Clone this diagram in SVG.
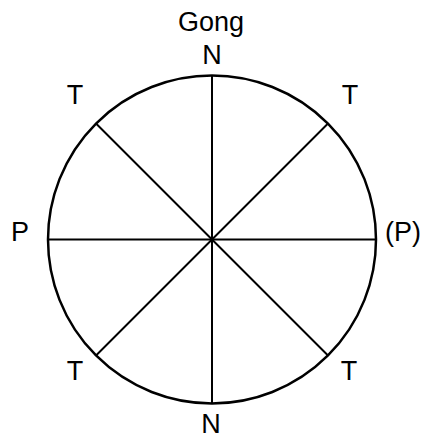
<svg xmlns="http://www.w3.org/2000/svg" width="424" height="438" viewBox="0 0 424 438">
<style>
.t{font-family:"Liberation Sans",Arial,sans-serif;font-size:27px;fill:#000;text-anchor:middle}
.l{stroke:#000;stroke-width:2;fill:none}
</style>
<rect width="424" height="438" fill="#fff"/>
<g id="connectors">
<line class="l" x1="212" y1="75" x2="212" y2="404"/>
<line class="l" x1="48" y1="239.5" x2="376" y2="239.5"/>
<line class="l" x1="96" y1="123.5" x2="328" y2="355.5"/>
<line class="l" x1="328" y1="123.5" x2="96" y2="355.5"/>
</g>
<g id="circle"><circle cx="212" cy="239.5" r="164" fill="none" stroke="#000" stroke-width="2.5"/></g>
<g id="gong"><text class="t" x="211" y="31">Gong</text></g>
<g id="n-top"><text class="t" x="212" y="64">N</text></g>
<g id="n-bottom"><text class="t" x="211" y="433">N</text></g>
<g id="p-left"><text class="t" x="20" y="241">P</text></g>
<g id="p-right"><text class="t" x="403" y="241">(P)</text></g>
<g id="t-tl"><text class="t" x="75" y="104">T</text></g>
<g id="t-tr"><text class="t" x="350" y="104">T</text></g>
<g id="t-bl"><text class="t" x="75" y="380">T</text></g>
<g id="t-br"><text class="t" x="349" y="380">T</text></g>
</svg>
